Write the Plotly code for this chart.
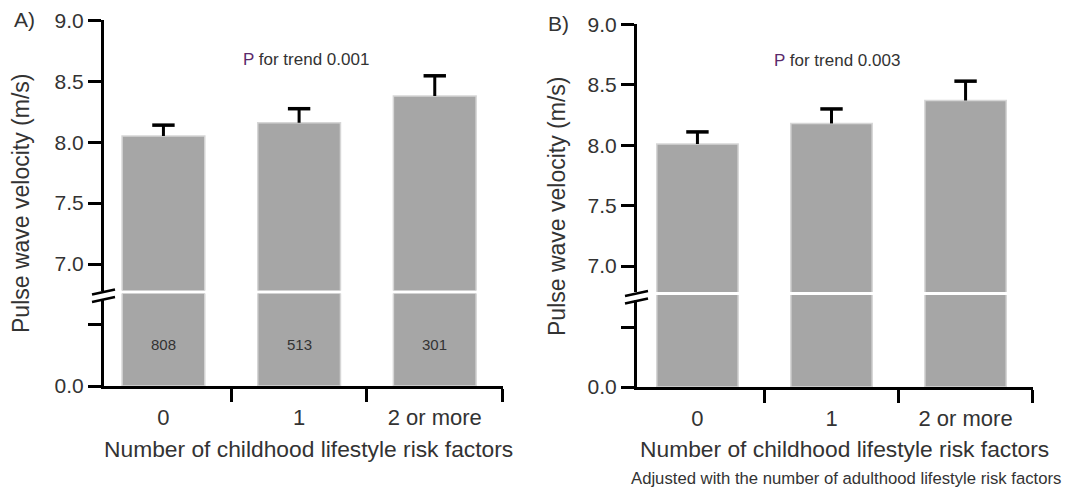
import plotly.graph_objects as go

# ---------------- data ----------------
categories = ["0", "1", "2 or more"]
pwv_a = [8.05, 8.16, 8.38]          # panel A means (m/s)
err_a = [0.09, 0.115, 0.165]        # panel A upper error
pwv_b = [8.01, 8.18, 8.37]          # panel B means (m/s)
err_b = [0.10, 0.12, 0.16]          # panel B upper error
counts_a = ["808", "513", "301"]
p_trend_a = "0.001"
p_trend_b = "0.003"
upper_ticks = [7.0, 7.5, 8.0, 8.5, 9.0]
lower_tickvals = [0, 1]
lower_ticktext = ["0.0", ""]

W, H = 1066, 490
FONT = "Arial, Liberation Sans, sans-serif"
TXT = "#333333"
BAR = "#a6a6a6"


def fx(px):
    return px / W


def fy(py):
    return 1 - py / H


fig = go.Figure()

panels = [
    dict(x0=104, x1=503, c0=163.5, unit=135.8, top9=20, y7=264, brk_top=290.5,
         brk_bot=293.5, base=386, lowunit=62, vals=pwv_a, errs=err_a, width=0.61,
         xa="x", ya_low="y", ya_up="y2", xname="xaxis", lname="yaxis", uname="yaxis2"),
    dict(x0=637, x1=1033, c0=697.5, unit=134.2, top9=24, y7=266, brk_top=292,
         brk_bot=295, base=387, lowunit=60, vals=pwv_b, errs=err_b, width=0.607,
         xa="x2", ya_low="y3", ya_up="y4", xname="xaxis2", lname="yaxis3", uname="yaxis4"),
]

axis_common = dict(showline=True, linecolor="black", linewidth=3, ticks="outside",
                   ticklen=13, tickwidth=3, tickcolor="black", showgrid=False,
                   zeroline=False, automargin=False,
                   tickfont=dict(family=FONT, size=21, color=TXT))

layout_axes = {}
shapes = []
for p in panels:
    bar_marker = dict(color=BAR, line=dict(color="#d6d6d6", width=1.5))
    fig.add_trace(go.Bar(x=categories, y=p["vals"], xaxis=p["xa"], yaxis=p["ya_low"],
                         marker=bar_marker, width=p["width"], showlegend=False,
                         hoverinfo="skip"))
    fig.add_trace(go.Bar(x=categories, y=p["vals"], xaxis=p["xa"], yaxis=p["ya_up"],
                         marker=bar_marker, width=p["width"], showlegend=False,
                         hoverinfo="skip"))
    # one-sided error bars: stem + top cap only
    ex, ey = [], []
    for c, v, e in zip(categories, p["vals"], p["errs"]):
        ex += [c, c, None]
        ey += [v, v + e, None]
    fig.add_trace(go.Scatter(x=ex, y=ey, xaxis=p["xa"], yaxis=p["ya_up"], mode="lines",
                             line=dict(color="black", width=3), showlegend=False,
                             hoverinfo="skip", cliponaxis=False))
    fig.add_trace(go.Scatter(x=categories, y=[v + e for v, e in zip(p["vals"], p["errs"])],
                             xaxis=p["xa"], yaxis=p["ya_up"], mode="markers",
                             marker=dict(symbol="line-ew", size=16,
                                         line=dict(color="black", width=3.5)),
                             showlegend=False, hoverinfo="skip", cliponaxis=False))

    ppu = (p["y7"] - p["top9"]) / 2.0
    up_lo = 7.0 - (p["brk_top"] - p["y7"]) / ppu
    low_hi = (p["base"] - p["brk_bot"]) / p["lowunit"]
    xl = (p["x0"] - p["c0"]) / p["unit"]
    xr = (p["x1"] - p["c0"]) / p["unit"]
    layout_axes[p["xname"]] = dict(
        domain=[fx(p["x0"]), fx(p["x1"])], anchor=p["ya_low"], type="category",
        categoryorder="array", categoryarray=categories, automargin=False,
        range=[xl, xr + 0.003], tickson="boundaries", showline=True, linecolor="black",
        linewidth=3, ticks="outside", ticklen=13, tickwidth=3, tickcolor="black",
        showgrid=False, zeroline=False, tickfont=dict(family=FONT, size=22, color=TXT),
        ticklabelstandoff=10)
    layout_axes[p["lname"]] = dict(
        domain=[fy(p["base"]), fy(p["brk_bot"])], anchor=p["xa"], range=[0, low_hi],
        tickvals=lower_tickvals, ticktext=lower_ticktext, **axis_common)
    layout_axes[p["uname"]] = dict(
        domain=[fy(p["brk_top"]), fy(p["top9"])], anchor=p["xa"], range=[up_lo, 9.003],
        tickvals=upper_ticks, tickformat=".1f", **axis_common)

    ax = p["x0"]
    shapes.append(dict(type="rect", xref="paper", yref="paper", layer="above",
                       x0=fx(ax - 3), x1=fx(ax + 3), y0=fy(p["brk_top"] + 8.5),
                       y1=fy(p["brk_top"] + 1), fillcolor="white", line=dict(width=0)))
    for dy in (1.5, 9.0):
        yc = p["brk_top"] + dy
        shapes.append(dict(type="line", xref="paper", yref="paper", layer="above",
                           x0=fx(ax - 12), y0=fy(yc + 2.5), x1=fx(ax + 11), y1=fy(yc - 2.5),
                           line=dict(color="black", width=2.5)))

annotations = [
    dict(text="A)", x=fx(24), y=fy(19), font=dict(size=21)),
    dict(text="B)", x=fx(558), y=fy(23), font=dict(size=21)),
    dict(text="Pulse wave velocity (m/s)", x=fx(21), y=fy(204), textangle=-90,
         font=dict(size=23)),
    dict(text="Pulse wave velocity (m/s)", x=fx(557), y=fy(207), textangle=-90,
         font=dict(size=23)),
    dict(text="Number of childhood lifestyle risk factors", x=fx(308), y=fy(449),
         font=dict(size=22.8)),
    dict(text="Number of childhood lifestyle risk factors", x=fx(844), y=fy(449),
         font=dict(size=22.8)),
    dict(text="Adjusted with the number of adulthood lifestyle risk factors",
         x=fx(846), y=fy(478), font=dict(size=16.7)),
    dict(text="<span style='color:#5b2a6b'>P</span> for trend " + p_trend_a,
         x=fx(306), y=fy(59), font=dict(size=17)),
    dict(text="<span style='color:#5b2a6b'>P</span> for trend " + p_trend_b,
         x=fx(837), y=fy(60), font=dict(size=17)),
]
for cat, n in zip(categories, counts_a):
    annotations.append(dict(text=n, x=cat, xref="x", y=fy(344), yref="paper",
                            font=dict(size=15)))

for a in annotations:
    a.setdefault("xref", "paper")
    a.setdefault("yref", "paper")
    a["showarrow"] = False
    a["xanchor"] = "center"
    a["yanchor"] = "middle"
    a["font"] = dict(family=FONT, color=TXT, **a["font"])

fig.update_layout(
    width=W, height=H, autosize=False,
    margin=dict(l=0, r=0, t=0, b=0, pad=0, autoexpand=False),
    paper_bgcolor="white", plot_bgcolor="white",
    showlegend=False,
    shapes=shapes, annotations=annotations,
    **layout_axes,
)

fig.write_html("out.html", config=dict(displayModeBar=False))

with open("out.html", "r", encoding="utf-8") as f:
    html = f.read()
html = html.replace("<head>", "<head><style>html,body{margin:0;padding:0;overflow:hidden}</style>", 1)
with open("out.html", "w", encoding="utf-8") as f:
    f.write(html)
